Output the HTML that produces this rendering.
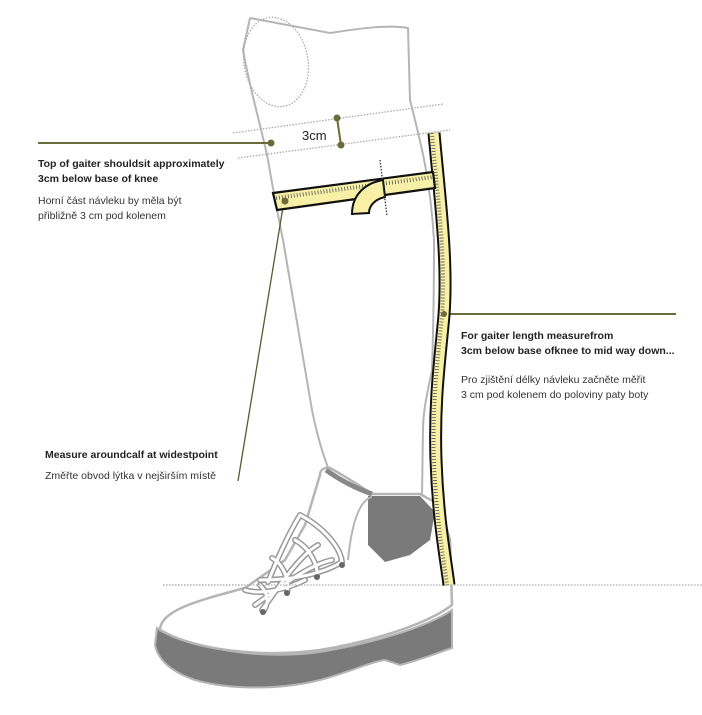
<!DOCTYPE html>
<html><head><meta charset="utf-8"><style>
html,body{margin:0;padding:0;background:#fff;}
svg{display:block}
text{font-family:"Liberation Sans","DejaVu Sans",sans-serif;}
.b{font-weight:bold;font-size:10.5px;fill:#222}
.n{font-size:10.5px;fill:#333}
</style></head><body>
<svg width="702" height="715" viewBox="0 0 702 715" xmlns="http://www.w3.org/2000/svg">
<path d="M250,18 L243,50 C250,90 262,130 268,160 C273,190 278,215 283,240 C293,300 303,360 312,410 C318,440 325,460 329,470" fill="none" stroke="#b5b5b5" stroke-width="2"/>
<path d="M250,18 L330,33 C350,30 385,24 408,28 L410,100 C420,140 430,175 434,240 C434,300 433,340 432,370 C428,390 423,410 423,430 L422,495" fill="none" stroke="#b5b5b5" stroke-width="2"/>
<ellipse cx="276" cy="62" rx="32" ry="45" transform="rotate(-10 276 62)" fill="none" stroke="#aaa" stroke-width="1.3" stroke-dasharray="1.5 1.5"/>
<line x1="233" y1="133" x2="443" y2="104" stroke="#aaa" stroke-width="1.3" stroke-dasharray="1.5 1.5"/>
<line x1="238" y1="158" x2="450" y2="130" stroke="#aaa" stroke-width="1.3" stroke-dasharray="1.5 1.5"/>
<line x1="163" y1="585" x2="702" y2="585" stroke="#aaa" stroke-width="1.3" stroke-dasharray="1.5 1.5"/>
<line x1="337" y1="118" x2="341" y2="145" stroke="#6b6b3a" stroke-width="2"/>
<circle cx="337" cy="118" r="3.5" fill="#6b6b3a"/><circle cx="341" cy="145" r="3.5" fill="#6b6b3a"/>
<text x="302" y="140" font-size="13" fill="#222">3cm</text>
<line x1="38" y1="143" x2="271" y2="143" stroke="#6b6b3a" stroke-width="2"/>
<circle cx="271" cy="143" r="3.5" fill="#6b6b3a"/>
<line x1="446" y1="314" x2="676" y2="314" stroke="#6b6b3a" stroke-width="2"/>
<line x1="284" y1="201" x2="238" y2="481" stroke="#5a5a30" stroke-width="1.3"/>
<!-- boot sole -->
<path d="M157,628 C200,650 260,660 320,652 C380,642 430,625 452,610 L452,648 C440,652 420,660 400,665 L385,660 C370,662 350,672 320,680 C280,690 230,690 195,680 C172,672 158,660 155,645 Z" fill="#7a7a7a" stroke="#b5b5b5" stroke-width="2"/>
<path d="M160,630 C160,610 200,600 245,588 L285,560 L305,525 L320,475 C320,470 324,467 330,468 C345,476 360,486 372,494 L420,494 L440,505 L450,540 L452,605 C430,622 380,640 320,650 C260,658 195,650 160,630 Z" fill="#fff" stroke="#b5b5b5" stroke-width="2.5"/>
<path d="M326,470 C340,480 355,488 372,494" fill="none" stroke="#888" stroke-width="5"/>
<path d="M368,496 L420,496 L435,512 L430,540 L410,555 L385,562 L368,545 Z" fill="#7a7a7a"/>
<path d="M372,497 C360,500 352,520 348,560" fill="none" stroke="#b5b5b5" stroke-width="2"/>
<g fill="none" stroke="#999" stroke-width="6" stroke-linecap="round">
<path d="M300,515 C320,525 340,545 342,562 M295,540 C310,548 318,565 317,576 M272,558 C285,565 290,585 287,592 M260,585 C270,595 268,605 263,612 M300,515 C285,540 275,565 268,582 M318,545 C300,555 280,585 262,610 M332,560 C310,565 290,580 255,605 M305,580 C285,590 260,595 245,590 M342,562 C320,575 290,580 260,580"/>
</g>
<g fill="none" stroke="#fff" stroke-width="3" stroke-linecap="round">
<path d="M300,515 C320,525 340,545 342,562 M295,540 C310,548 318,565 317,576 M272,558 C285,565 290,585 287,592 M260,585 C270,595 268,605 263,612 M300,515 C285,540 275,565 268,582 M318,545 C300,555 280,585 262,610 M332,560 C310,565 290,580 255,605 M305,580 C285,590 260,595 245,590 M342,562 C320,575 290,580 260,580"/>
</g>
<g fill="#666"><circle cx="342" cy="565" r="3"/><circle cx="317" cy="577" r="3"/><circle cx="287" cy="593" r="3"/><circle cx="263" cy="612" r="3"/></g>
<line x1="163" y1="585" x2="450" y2="585" stroke="#aaa" stroke-width="1.3" stroke-dasharray="1.5 1.5"/>
<!-- vertical ruler -->
<path d="M434,133 C440,200 448,260 444,315 C440,360 434,400 436,460 C438,520 446,560 449,585" fill="none" stroke="#111" stroke-width="13"/>
<path d="M434,133 C440,200 448,260 444,315 C440,360 434,400 436,460 C438,520 446,560 449,585" fill="none" stroke="#f7f0a6" stroke-width="9"/>
<path d="M434,133 C440,200 448,260 444,315 C440,360 434,400 436,460 C438,520 446,560 449,585" fill="none" stroke="#555" stroke-width="4" stroke-dasharray="0.8 2.2" transform="translate(-2,0)"/>
<circle cx="444" cy="314" r="3" fill="#6b6b3a"/>
<!-- horizontal ruler -->
<polygon points="273,193 433,172 435,188 277,210" fill="#f7f0a6" stroke="#111" stroke-width="2.2"/>
<line x1="276" y1="198" x2="433" y2="177" stroke="#555" stroke-width="4" stroke-dasharray="0.8 2.2"/>
<path d="M352,214 C352,195 365,183 383,180 L385,197 C376,199 369,205 369,213 Z" fill="#f7f0a6" stroke="#111" stroke-width="2"/>
<line x1="380" y1="160" x2="387" y2="216" stroke="#333" stroke-width="1.3" stroke-dasharray="1.5 1.5"/>
<circle cx="285" cy="201" r="3.5" fill="#6b6b3a"/>
<text class="b" x="38" y="167">Top of gaiter shouldsit approximately</text>
<text class="b" x="38" y="182">3cm below base of knee</text>
<text class="n" x="38" y="204">Horní část návleku by měla být</text>
<text class="n" x="38" y="219">přibližně 3 cm pod kolenem</text>
<text class="b" x="461" y="339">For gaiter length measurefrom</text>
<text class="b" x="461" y="354">3cm below base ofknee to mid way down...</text>
<text class="n" x="461" y="383">Pro zjištění délky návleku začněte měřit</text>
<text class="n" x="461" y="398">3 cm pod kolenem do poloviny paty boty</text>
<text class="b" x="45" y="458">Measure aroundcalf at widestpoint</text>
<text class="n" x="45" y="479">Změřte obvod lýtka v nejširším místě</text>
</svg>
</body></html>
